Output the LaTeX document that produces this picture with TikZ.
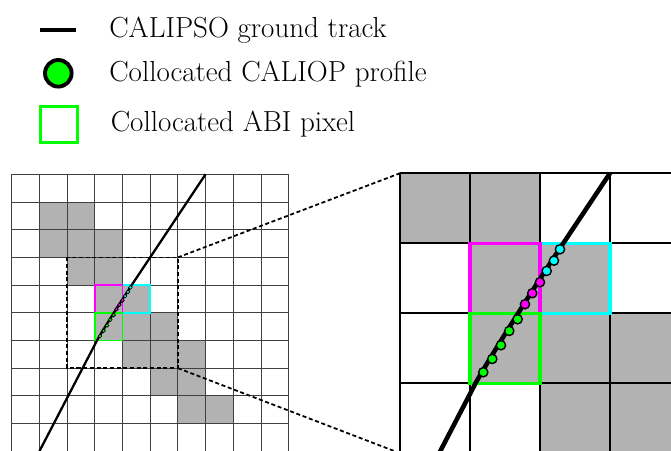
\documentclass[tikz,border=0pt]{standalone}
\usetikzlibrary{calc}

\definecolor{pixgreen}{RGB}{0,255,0}
\definecolor{pixcyan}{RGB}{0,255,255}
\definecolor{pixmagenta}{RGB}{255,0,255}

\tikzset{
    cellgray/.style={fill=black!30},
    thingrid/.style={black!75, line width=0.45pt},
    thickgrid/.style={black, line width=1.1pt},
    zoomdash/.style={line width=1pt, dash pattern=on 2.3pt off 1.5pt},
    legendtext/.style={anchor=base west, inner sep=0pt, font=\fontsize{16.5}{20}\selectfont},
}

% Gray ABI pixels, in cells of the coarse grid (column/row from top left)
\newcommand{\graycells}{%
    \foreach \cx/\cy in {1/1,2/1,1/2,2/2,3/2,2/3,3/3,3/4,4/4,3/5,4/5,5/5,4/6,5/6,6/6,5/7,6/7,6/8,7/8}
        \fill[cellgray] (\cx,\cy) rectangle ++(1,1);%
}
% CALIPSO ground track
\newcommand{\groundtrack}[1]{%
    \draw[line width=#1] (7,0) -- (4.4,3.9) .. controls (3.865,4.7) and (3.184,5.8) .. (3.08,6) -- (1,10);%
}
% Collocated ABI pixels
\newcommand{\abipixels}[1]{%
    \draw[pixcyan, line width=#1] (4,4) rectangle (5,5);
    \draw[pixmagenta, line width=#1] (3,4) rectangle (4,5);
    \draw[pixgreen, line width=#1] (3,5) rectangle (4,6);%
}
% Collocated CALIOP profiles
\newcommand{\caliopdots}[1]{%
    \foreach \px/\py/\dotcol in {3.190/5.843/pixgreen, 3.319/5.653/pixgreen, 3.443/5.457/pixgreen, 3.561/5.253/pixgreen, 3.681/5.086/pixgreen,
                                 3.786/4.871/pixmagenta, 3.890/4.714/pixmagenta, 4.0/4.557/pixmagenta,
                                 4.096/4.396/pixcyan, 4.2/4.249/pixcyan, 4.286/4.086/pixcyan}
        \filldraw[fill=\dotcol, line width=#1] (\px,\py) circle (0.066);%
}

\begin{document}
\begin{tikzpicture}[x=0.02cm, y=0.02cm]
    \useasboundingbox (0,0) rectangle (671,450);
    \clip (0,0) rectangle (671,450);
    % Legend
    \draw[line width=2.2pt] (40,420) -- (76,420);
    \filldraw[fill=pixgreen, line width=2.2pt] (58.3,376.7) circle (13.3);
    \draw[pixgreen, line width=1.7pt] (40.5,307.2) rectangle (77.5,343.5);
    \node[legendtext] (tracktext) at (109,412.7) {CALIPSO ground track};
    \node[legendtext] (profiletext) at (109,368.3) {Collocated CALIOP profile};
    \node[legendtext] (pixeltext) at (110.5,318.3) {Collocated ABI pixel};
    %
    \begin{scope}[shift={(11.7,275.7)}, x=0.554cm, y=-0.554cm]
        % Draw the coarse ABI grid
        \graycells
        \foreach \i in {0,...,10} {
            \draw[thingrid] (\i,0) -- (\i,10);
            \draw[thingrid] (0,\i) -- (10,\i);
        }
        % Draw the zoom box
        \draw[zoomdash] (2,3) rectangle (6,7);
        \coordinate (boxNE) at (6,3);
        \coordinate (boxSE) at (6,7);
        \abipixels{0.85pt}
        \groundtrack{1.3pt}
        \caliopdots{0.35pt}
    \end{scope}
    %
    \begin{scope}[shift={(260,486.7)}, x=1.4cm, y=-1.4cm]
        % Draw the zoomed part of the grid
        \begin{scope}
            \clip (1.986,2.986) rectangle (6.02,7.02);
            \graycells
            \foreach \i in {2,...,6} \draw[thickgrid] (\i,3) -- (\i,7);
            \foreach \j in {3,...,7} \draw[thickgrid] (2,\j) -- (6,\j);
            \abipixels{1.9pt}
            \groundtrack{2.6pt}
            \caliopdots{0.8pt}
        \end{scope}
        \coordinate (zoomNW) at (2,3);
        \coordinate (zoomSW) at (2,7);
    \end{scope}
    % Draw the zoom connectors
    \draw[zoomdash] (boxNE) -- (zoomNW);
    \draw[zoomdash] (boxSE) -- (zoomSW);
\end{tikzpicture}
\end{document}
